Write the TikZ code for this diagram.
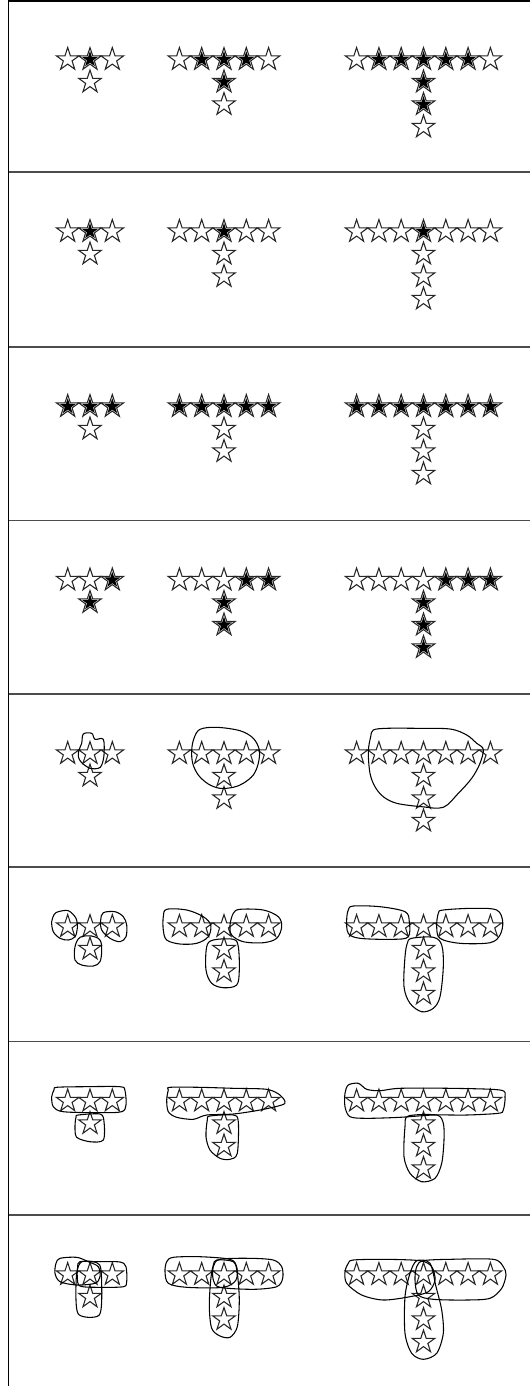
\documentclass[tikz,border=0pt]{standalone}
\usetikzlibrary{shapes.geometric}
\tikzset{
  starnode/.style={star, star points=5, star point ratio=2.618, draw=black!85, line width=0.8pt, fill=white, minimum size=18pt, inner sep=0pt, outer sep=0pt},
  starfill/.style={star, star points=5, star point ratio=2.618, fill=black, minimum size=12.5pt, inner sep=0pt, outer sep=0pt},
  lasso/.style={draw=black, line width=0.8pt},
  sepline/.style={draw=black!70, line width=1.3pt},
  borderline/.style={draw=black, line width=1.4pt}
}
\begin{document}
\begin{tikzpicture}[x=0.75pt,y=-0.75pt]
\useasboundingbox (0,0) rectangle (530,1386);
% panel frame
\coordinate (tl) at (8.5,0.7);
\coordinate (bl) at (8.5,1386);
\coordinate (tr) at (530,0.7);
\draw[borderline] (bl) -- (tl) -- (tr);
\foreach \t [count=\k] in {172,347,520.5,694,867,1041.5,1215}{
  \coordinate (sepL\k) at (8.5,\t);
  \coordinate (sepR\k) at (530,\t);
  \draw[sepline] (sepL\k) -- (sepR\k);
}
% stars
\foreach \p/\top in {1/0,2/172,3/347,4/520.5,5/694,6/867,7/1041.5,8/1215}{
  \foreach \n/\cx in {1/90,2/224,3/423.5}{
    \foreach \i in {-\n,...,\n}{
      \pgfmathtruncatemacro\f{(\p==1)*(abs(\i)<(\n-0.5)) + (\p==2)*(\i==0) + (\p==3) + (\p==4)*(\i>0)}
      \node[starnode] (s\p-\n-t\i) at ({\cx+\i*22.3},{\top+59.5}) {};
      \ifnum\f>0 \node[starfill] at (s\p-\n-t\i) {};\fi
    }
    \foreach \j in {1,...,\n}{
      \pgfmathtruncatemacro\f{(\p==1)*(\j<(\n-0.5)) + (\p==4)}
      \node[starnode] (s\p-\n-v\j) at (\cx,{\top+59.5+\j*22.5}) {};
      \ifnum\f>0 \node[starfill] at (s\p-\n-v\j) {};\fi
    }
  }
}
% panel 5 lassos
\draw[lasso] plot[smooth cycle, tension=0.55] coordinates {(83.3,734) (91.7,733.3) (95,739.3) (103.3,739.3) (104,755) (101.7,765) (98.3,768.3) (90,768.3) (81.7,762.7) (78.3,756.7) (79,750) (81.7,743.3)};
\draw[lasso] plot[smooth cycle, tension=0.55] coordinates {(200,729.3) (216.7,727.3) (240,730.7) (253.3,738.3) (259.3,750) (258.3,763.3) (253.3,775) (243.3,783.3) (233.3,787.3) (220,788.3) (208.3,784) (198.3,775) (192.7,763.3) (191.7,750) (194,738.3)};
\draw[lasso] plot[smooth cycle, tension=0.55] coordinates {(373.3,730) (386.7,728.3) (416.7,728.3) (450,729) (466.7,735) (476.7,743.3) (483.3,749.3) (480,763.3) (471.7,778.3) (458.3,793.3) (443.3,807.3) (421.7,806.7) (396.7,803.3) (383.3,796.7) (375,786.7) (370,773.3) (368.3,751.7) (370.7,736.7)};
% panel 6 lassos
\draw[lasso] plot[smooth cycle, tension=0.55] coordinates {(58.3,911.7) (68.3,910.7) (76,918.3) (77.3,928.3) (75,936.7) (68.3,940) (60,938.3) (53.3,931.7) (51.7,921.7) (54.3,914.3)};
\draw[lasso] plot[smooth cycle, tension=0.55] coordinates {(103.3,912.7) (115,911.7) (123.3,916.7) (126.7,925) (126,936.7) (120,941.7) (110,938.3) (101.7,930) (100.7,920)};
\draw[lasso] plot[smooth cycle, tension=0.55] coordinates {(80,937.3) (91.7,936) (100,940) (101.7,950) (100,961.7) (93.3,966) (81.7,965) (75,960) (75,946.7)};
\draw[lasso] plot[smooth cycle, tension=0.55] coordinates {(166.7,909.3) (186.7,910) (203.3,916.7) (210.7,925) (208.3,936.7) (196.7,943.3) (180,944) (166.7,940) (163.3,930) (163.3,916.7)};
\draw[lasso] plot[smooth cycle, tension=0.55] coordinates {(240,909.3) (263.3,910) (278.3,916.7) (281.7,926.7) (276.7,938.3) (263.3,942.7) (243.3,941.7) (231.7,935) (230,925) (233.3,913.3)};
\draw[lasso] plot[smooth cycle, tension=0.55] coordinates {(213.3,940) (233.3,939.3) (238.3,946.7) (239.3,970) (236.7,985) (223.3,987.7) (211.7,983.3) (206,970) (206.7,946.7)};
\draw[lasso] plot[smooth cycle, tension=0.55] coordinates {(353.3,906) (380,906.7) (405,911.7) (409.3,921.7) (408.3,936.7) (393.3,939.3) (360,938.3) (348.3,933.3) (346.7,920) (348.3,910)};
\draw[lasso] plot[smooth cycle, tension=0.55] coordinates {(443.3,910) (473.3,908.3) (496.7,910) (502.7,921.7) (500,935) (490,942.7) (460,943.3) (440,938.3) (436.7,926.7) (438.3,913.3)};
\draw[lasso] plot[smooth cycle, tension=0.55] coordinates {(411.7,938.3) (433.3,937.3) (441.7,945) (443.3,966.7) (440,996.7) (433.3,1008.3) (421.7,1011.7) (410,1003.3) (404,986.7) (405,956.7) (407.3,943.3)};
% panel 7 lassos
\draw[lasso] plot[smooth cycle, tension=0.5] coordinates {(56.7,1087.3) (83.3,1086.7) (120,1086.7) (125,1090.7) (126,1105) (121.7,1111.7) (100,1112.7) (63.3,1111.7) (53.3,1106.7) (51.7,1096.7) (54,1090)};
\draw[lasso] plot[smooth cycle, tension=0.5] coordinates {(78.3,1115) (100,1114) (104,1121.7) (103.3,1140) (90,1141.7) (76.7,1137.3) (75,1126.7) (76,1117.3)};
\draw[lasso] plot[smooth cycle, tension=0.5] coordinates {(170,1087.3) (200,1087.3) (233.3,1088.3) (266.7,1089.3) (280,1095) (285,1101.7) (281.7,1105) (260,1110) (233.3,1114) (206.7,1115) (193.3,1119.3) (176.7,1117.3) (168.3,1111.7) (166.7,1100) (168.3,1090)};
\draw[lasso] plot[smooth cycle, tension=0.5] coordinates {(210,1116) (233.3,1115) (238.3,1121.7) (237.3,1153.3) (230,1159.3) (220,1158.3) (210,1150) (206,1136.7) (207.3,1120)};
\draw[lasso] plot[smooth cycle, tension=0.5] coordinates {(348.3,1085) (358.3,1083.3) (366.7,1089.3) (380,1090.7) (400,1088.3) (450,1088.3) (500,1090) (505,1096.7) (503.3,1110) (498.3,1113.3) (466.7,1115) (433.3,1115) (400,1117.3) (366.7,1118.3) (350,1116.7) (345,1106.7) (345,1093.3)};
\draw[lasso] plot[smooth cycle, tension=0.5] coordinates {(408.3,1116) (436.7,1115) (443.3,1123.3) (444,1140) (441.7,1163.3) (435,1178.3) (421.7,1181.7) (410,1173.3) (404,1156.7) (405,1126.7)};
% panel 8 lassos
\draw[lasso] plot[smooth cycle, tension=0.5] coordinates {(60,1258.3) (76.7,1257.3) (88.3,1261.7) (98.3,1266.7) (100,1276.7) (95,1283.3) (76.7,1285) (60,1281.7) (55,1273.3) (56,1263.3)};
\draw[lasso] plot[smooth cycle, tension=0.5] coordinates {(80,1261.7) (100,1261.7) (120,1262) (126,1266.7) (126.7,1281.7) (123.3,1286.7) (100,1287.3) (80,1286) (77.3,1276.7) (77.7,1266.7)};
\draw[lasso] plot[smooth cycle, tension=0.5] coordinates {(81.7,1261.7) (96.7,1262.7) (101,1270) (101.7,1300) (99.3,1315) (88.3,1317.3) (78.3,1314) (76,1300) (76.7,1273.3)};
\draw[lasso] plot[smooth cycle, tension=0.5] coordinates {(173.3,1257.3) (200,1256.7) (230,1259.3) (236.7,1266.7) (236,1280) (223.3,1287.3) (186.7,1287.3) (168.3,1283.3) (165,1271.7) (166.7,1261.7)};
\draw[lasso] plot[smooth cycle, tension=0.5] coordinates {(220,1259.3) (250,1258.3) (273.3,1260) (281.7,1266.7) (282.7,1278.3) (276.7,1286.7) (253.3,1289.3) (220,1287.3) (213.3,1280) (213.3,1266.7)};
\draw[lasso] plot[smooth cycle, tension=0.5] coordinates {(216.7,1260) (233.3,1261.7) (237.3,1273.3) (239.3,1300) (237.3,1326.7) (230,1337.3) (220,1336) (211.7,1328.3) (209.3,1306.7) (210.7,1280) (213.3,1265)};
\draw[lasso] plot[smooth cycle, tension=0.5] coordinates {(353.3,1260) (383.3,1259.3) (420,1260.7) (431.7,1266.7) (435,1280) (428.3,1291.7) (410,1296.7) (383.3,1300) (361.7,1295) (346.7,1283.3) (345,1271.7) (348.3,1263.3)};
\draw[lasso] plot[smooth cycle, tension=0.5] coordinates {(423.3,1260.7) (450,1259.3) (493.3,1259.3) (503.3,1266.7) (506,1275) (501.7,1288.3) (490,1298.3) (466.7,1300) (433.3,1299.3) (418.3,1295) (415,1280) (416.7,1266.7)};
\draw[lasso] plot[smooth cycle, tension=0.5] coordinates {(416.7,1260.7) (430,1263.3) (436,1286.7) (441.7,1310) (443.3,1333.3) (436.7,1353.3) (423.3,1359.3) (411.7,1353.3) (405,1333.3) (405,1296.7) (410,1273.3)};
\end{tikzpicture}
\end{document}
